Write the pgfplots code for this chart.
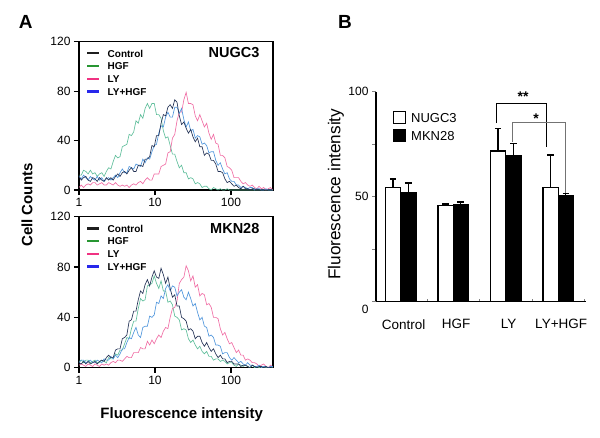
\documentclass[border=0pt]{standalone}
\usepackage{fontspec}
\setmainfont{Liberation Sans}
\usepackage{pgfplots}
\usepackage{pgfplotstable}
\pgfplotsset{compat=1.18}
\definecolor{cC}{RGB}{35,50,85}
\definecolor{cG}{RGB}{95,190,155}
\definecolor{cP}{RGB}{240,110,165}
\definecolor{cB}{RGB}{80,150,220}
\definecolor{lC}{RGB}{30,30,30}
\definecolor{lG}{RGB}{40,150,50}
\definecolor{lP}{RGB}{240,50,130}
\definecolor{lB}{RGB}{40,40,235}

\pgfplotstableread{
x C G P B
0.00 11 12 2 11
0.03 8 12 4 9
0.06 10 16 2 12
0.09 11 15 4 10
0.12 8 13 5 8
0.15 7 16 4 11
0.18 10 13 6 9
0.21 9 14 6 8
0.24 7 11 4 11
0.27 10 13 5 8
0.30 8 14 6 10
0.33 7 11 4 7
0.36 10 15 4 9
0.39 8 18 6 10
0.42 10 17 5 8
0.45 8 23 4 10
0.48 11 28 6 12
0.51 13 26 4 10
0.54 11 27 3 14
0.57 14 35 4 17
0.60 15 36 3 14
0.63 13 37 4 14
0.66 16 45 2 19
0.69 18 44 4 18
0.72 15 47 5 17
0.75 15 56 4 21
0.78 20 54 6 20
0.81 20 61 7 19
0.84 19 58 5 25
0.87 25 66 8 22
0.90 25 70 10 26
0.93 27 66 8 25
0.96 36 70 8 31
0.99 35 70 13 36
1.02 44 61 13 37
1.05 44 61 13 46
1.08 54 58 19 52
1.11 61 48 20 51
1.14 60 42 21 59
1.17 67 43 30 63
1.20 69 36 31 59
1.23 66 29 42 59
1.26 73 29 45 67
1.29 71 23 56 67
1.32 60 18 63 62
1.35 53 20 63 66
1.38 55 14 73 57
1.41 50 14 79 51
1.44 46 9 70 55
1.47 49 10 70 48
1.50 43 9 69 49
1.53 39 5 60 42
1.56 42 6 56 44
1.59 35 5 61 43
1.62 35 2 56 37
1.65 28 3 51 38
1.68 30 3 54 36
1.71 29 1 46 30
1.74 24 0 41 31
1.77 24 2 45 31
1.80 21 1 38 24
1.83 15 0 37 20
1.86 15 1 28 22
1.89 14 0 28 17
1.92 9 0 26 13
1.95 6 1 19 14
1.98 7 0 18 9
2.01 5 0 16 7
2.04 3 0 10 7
2.07 4 0 10 4
2.10 2 0 10 4
2.13 1 0 7 2
2.16 3 0 5 3
2.19 1 0 6 2
2.22 1 0 4 1
2.25 0 0 3 2
2.28 1 0 4 2
2.31 1 0 2 0
2.34 0 0 1 1
2.37 0 0 3 1
2.40 0 0 1 0
2.43 0 0 2 0
2.46 0 0 0 1
2.49 0 0 1 0
2.52 0 0 2 0
2.55 0 0 0 0
}\topdata

\pgfplotstableread{
x C G P B
0.00 4 5 2 4
0.03 3 6 3 6
0.06 5 4 2 6
0.09 3 6 1 4
0.12 5 6 3 5
0.15 3 4 2 6
0.18 4 5 1 4
0.21 5 6 3 4
0.24 3 4 2 6
0.27 5 4 1 5
0.30 6 6 3 4
0.33 5 5 2 7
0.36 8 4 3 6
0.39 10 8 2 6
0.42 8 7 4 9
0.45 8 7 5 7
0.48 14 11 4 10
0.51 15 10 6 8
0.54 15 14 6 11
0.57 23 14 5 15
0.60 24 19 7 15
0.63 26 24 9 20
0.66 37 23 8 24
0.69 38 31 8 23
0.72 45 37 12 28
0.75 45 37 12 32
0.78 54 47 12 26
0.81 61 55 16 24
0.84 59 53 15 32
0.87 66 54 15 33
0.90 70 65 21 33
0.93 65 66 18 41
0.96 72 67 22 40
0.99 77 73 19 42
1.02 72 67 23 52
1.05 71 63 26 51
1.08 79 69 24 57
1.11 74 61 29 55
1.14 67 61 32 63
1.17 72 52 31 66
1.20 63 53 40 61
1.23 56 50 47 65
1.26 58 41 48 64
1.29 49 40 53 57
1.32 49 38 67 60
1.35 40 30 70 62
1.38 39 31 72 56
1.41 37 30 81 54
1.44 30 23 77 60
1.47 31 20 69 55
1.50 29 22 73 49
1.53 23 18 64 51
1.56 25 15 66 44
1.59 25 17 57 38
1.62 20 13 59 40
1.65 17 11 58 33
1.68 20 13 50 32
1.71 16 9 51 25
1.74 13 9 48 26
1.77 15 6 40 24
1.80 11 7 40 18
1.83 8 7 39 18
1.86 10 5 31 17
1.89 7 6 26 11
1.92 7 5 28 12
1.95 4 3 23 12
1.98 5 4 19 8
2.01 5 4 20 6
2.04 3 2 16 8
2.07 3 1 12 6
2.10 3 3 14 4
2.13 1 2 10 5
2.16 2 1 10 3
2.19 2 2 6 2
2.22 1 1 7 4
2.25 0 0 6 2
2.28 2 2 4 2
2.31 1 0 4 1
2.34 0 1 3 1
2.37 1 0 1 2
2.40 1 1 2 0
2.43 0 0 3 1
2.46 1 0 1 1
2.49 0 0 0 0
2.52 0 1 2 1
2.55 0 0 1 1
}\botdata

\pgfplotsset{
  histo/.style={
    scale only axis, width=194pt,
    xmin=0, xmax=2.553, ymin=0, ymax=120,
    xtick={0,1,2}, xticklabels={1,10,100},
    ytick={0,40,80,120},
    tick pos=left, tick align=outside, major tick length=5pt,
    axis line style={line width=1.1pt},
    tick style={line width=1.1pt, black},
    tick label style={font=\fontsize{12}{12}\selectfont},
    /pgf/number format/assume math mode=true,
    legend style={draw=none, fill=none, inner sep=0pt, outer sep=0pt,
      row sep=2.2pt, anchor=north west,
      nodes={inner sep=1.5pt, text height=7.5pt, text depth=0pt,
        font=\fontsize{10}{10}\selectfont\bfseries},
      /tikz/every odd column/.append style={column sep=6pt}},
    legend cell align=left,
    legend image code/.code={\draw[##1, line width=2.2pt] (0pt,0pt) -- (12pt,0pt);},
  },
  hline/.style={line width=0.65pt, forget plot},
  errb/.style={error bars/.cd, y dir=plus, y explicit, error mark=-,
    error bar style={line width=1.2pt, black},
    error mark options={rotate=90, mark size=3.3pt, line width=1.2pt, black}},
}

\begin{document}
\begin{tikzpicture}[x=1pt,y=1pt]
\useasboundingbox (0,0) rectangle (600,437);

% ---------- Panel A, top ----------
\begin{axis}[histo, at={(79pt,247pt)}, anchor=south west, height=148.3pt,
  legend style={at={(0.036,0.957)}}]
\addlegendimage{lC}
\addlegendimage{lG}
\addlegendimage{lP}
\addlegendimage{lB}
\addplot[cG, hline] table[x=x, y=G] {\topdata};
\addplot[cP, hline] table[x=x, y=P] {\topdata};
\addplot[cB, hline] table[x=x, y=B] {\topdata};
\addplot[cC, hline] table[x=x, y=C] {\topdata};
\legend{Control,HGF,LY,LY+HGF}
\node[anchor=east, font=\fontsize{14.5}{14.5}\selectfont\bfseries] at (rel axis cs:0.948,0.93) {NUGC3};
\end{axis}

% ---------- Panel A, bottom ----------
\begin{axis}[histo, at={(79pt,69.3pt)}, anchor=south west, height=151pt,
  legend style={at={(0.036,0.957)}}]
\addlegendimage{lC}
\addlegendimage{lG}
\addlegendimage{lP}
\addlegendimage{lB}
\addplot[cG, hline] table[x=x, y=G] {\botdata};
\addplot[cP, hline] table[x=x, y=P] {\botdata};
\addplot[cB, hline] table[x=x, y=B] {\botdata};
\addplot[cC, hline] table[x=x, y=C] {\botdata};
\legend{Control,HGF,LY,LY+HGF}
\node[anchor=east, font=\fontsize{14.5}{14.5}\selectfont\bfseries] at (rel axis cs:0.948,0.923) {MKN28};
\end{axis}

\node[rotate=90, font=\fontsize{15}{15}\selectfont\bfseries] at (27,232) {Cell Counts};
\node[font=\fontsize{15}{15}\selectfont\bfseries] at (181.7,22.7) {Fluorescence intensity};
\node[font=\fontsize{19}{19}\selectfont\bfseries] at (25.8,415.3) {A};
\node[font=\fontsize{19}{19}\selectfont\bfseries] at (345,415.3) {B};

% ---------- Panel B ----------
\begin{axis}[at={(376pt,135.3pt)}, anchor=south west, scale only axis,
  width=209.7pt, height=210pt,
  xmin=-0.47, xmax=3.524, ymin=0, ymax=100,
  axis x line*=bottom, axis y line*=left,
  axis line style={-, line width=1.2pt},
  ytick={25,50,75,100}, yticklabels={,50,,100},
  extra y ticks={0}, extra y tick labels={0},
  extra y tick style={yticklabel style={yshift=-8pt}},
  xtick={0,1,2,3}, xticklabels={Control,HGF,LY,LY+HGF},
  minor xtick={0.5,1.5,2.5,3.5},
  tick align=outside, major tick length=4pt, minor tick length=3pt,
  major x tick style={draw=none},
  minor x tick style={yshift=3pt, line width=0.8pt},
  major y tick style={line width=1.2pt},
  xticklabel style={font=\fontsize{13.5}{13.5}\selectfont, xshift=3pt, yshift=-10pt},
  yticklabel style={font=\fontsize{12}{12}\selectfont},
  /pgf/number format/assume math mode=true,
  legend style={at={(0.08,0.91)}, anchor=north west, draw=none, fill=none,
    inner sep=0pt, row sep=4.5pt,
    nodes={inner sep=2pt, text height=9.5pt, text depth=0pt,
      font=\fontsize{13}{13}\selectfont},
    /tikz/every odd column/.append style={column sep=3pt}},
  legend cell align=left,
  clip=false,
]
\addlegendimage{legend image code/.code={\draw[fill=white,draw=black,line width=1.2pt] (0pt,-5.8pt) rectangle (12pt,5.8pt);}}
\addlegendimage{legend image code/.code={\draw[fill=black,draw=black,line width=1.2pt] (0pt,-5.8pt) rectangle (12pt,5.8pt);}}
\addplot[ybar, bar width=0.29, bar shift=0, fill=white, draw=black, line width=1.2pt, forget plot, errb]
  coordinates {(-0.145,54.5) +- (0,3.9) (0.855,45.7) +- (0,0.8) (1.855,71.8) +- (0,10.8) (2.855,54.5) +- (0,15.4)};
\addplot[ybar, bar width=0.29, bar shift=0, fill=black, draw=black, line width=1.2pt, forget plot, errb]
  coordinates {(0.145,52.1) +- (0,4.4) (1.145,46.0) +- (0,1.5) (2.145,69.5) +- (0,5.9) (3.145,50.5) +- (0,0.9)};
\legend{NUGC3,MKN28}
\draw[black, line width=0.8pt] (axis cs:1.83,85) |- (axis cs:2.77,94.5) -- (axis cs:2.77,73.8);
\draw[black!55, line width=0.8pt] (axis cs:2.13,76.2) |- (axis cs:3.13,85.4) -- (axis cs:3.13,51.9);
\node[font=\fontsize{14}{14}\selectfont\bfseries] at (axis cs:2.33,97.5) {**};
\node[font=\fontsize{14}{14}\selectfont\bfseries] at (axis cs:2.58,87.2) {*};
\end{axis}
\node[rotate=90, font=\fontsize{17.2}{17.2}\selectfont] at (335.8,242.8) {Fluorescence intensity};
\end{tikzpicture}
\end{document}
